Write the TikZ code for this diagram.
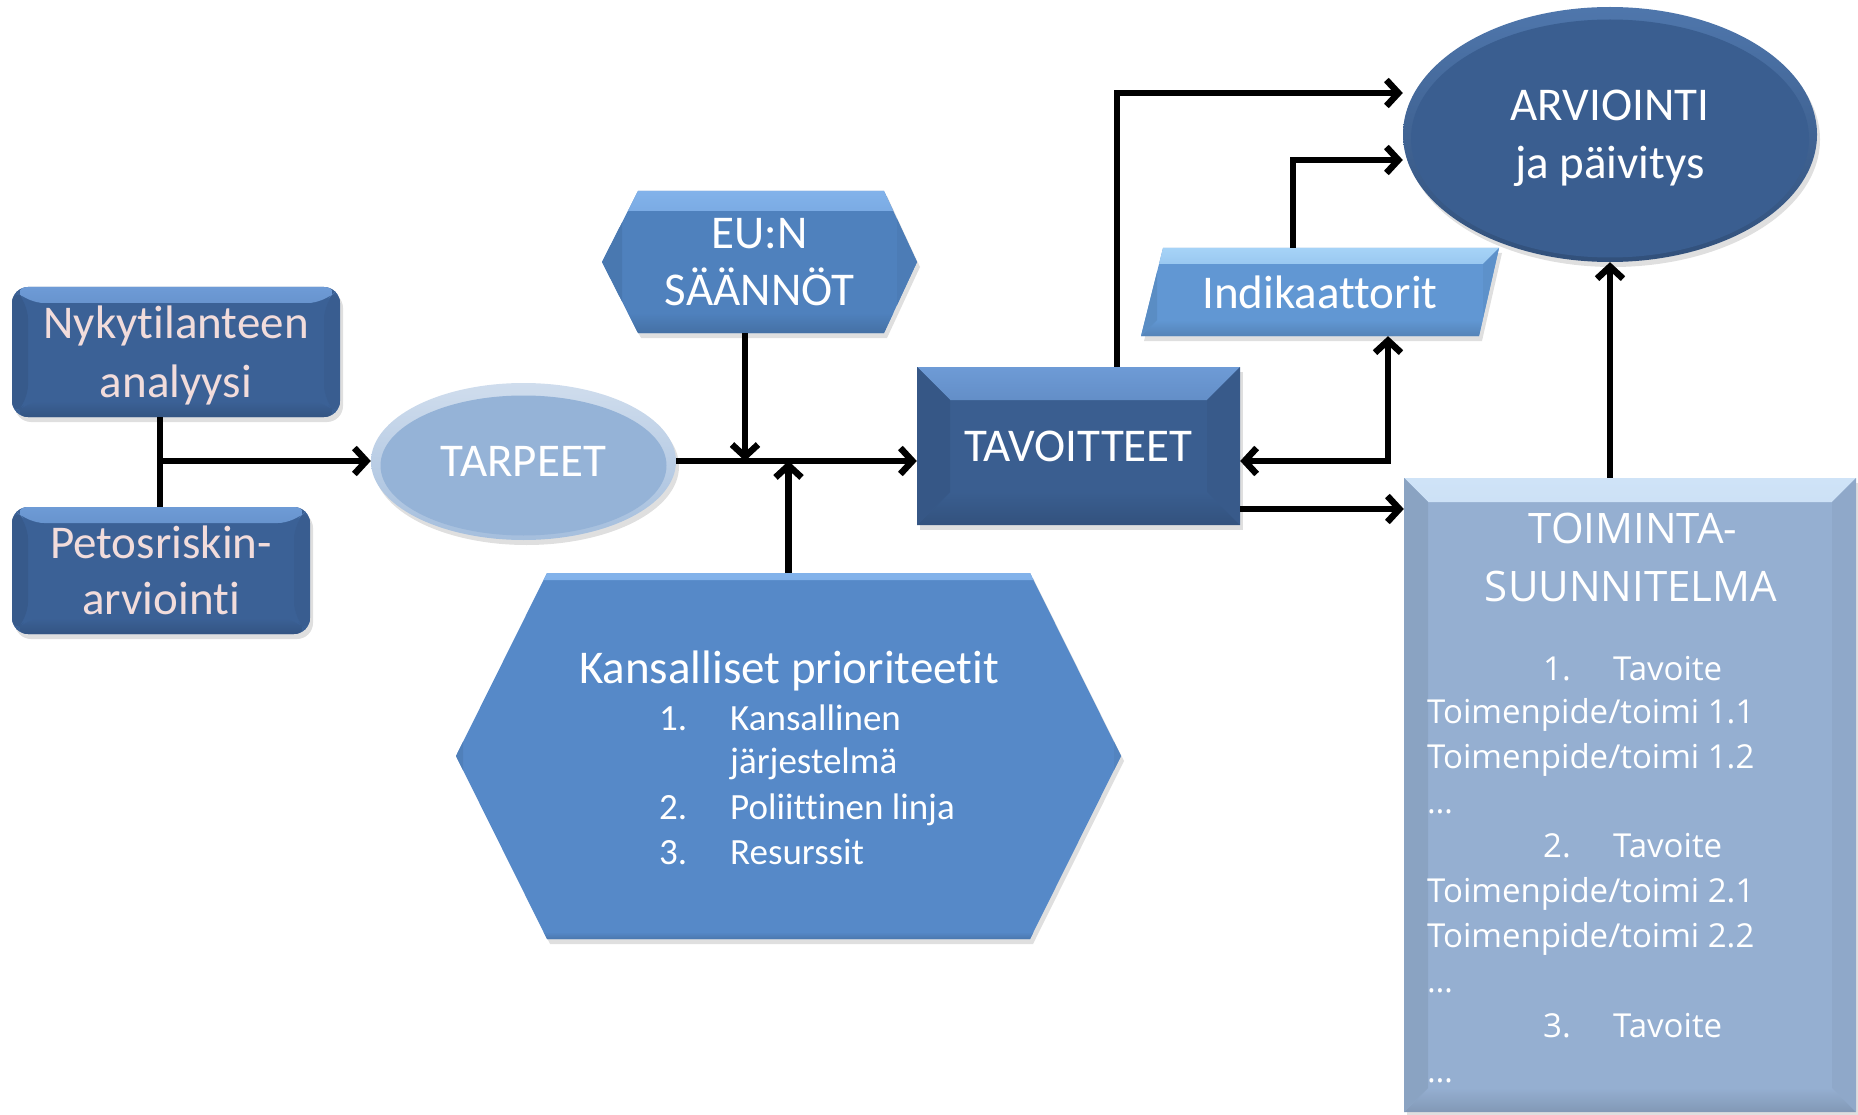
\documentclass[tikz,border=0pt]{standalone}
\usepackage{fontspec}
\setmainfont{Carlito}[Ligatures=NoCommon]
\newfontfamily\toimfont{Open Sans}[Ligatures=NoCommon]
\usetikzlibrary{arrows.meta,shadows,calc,shapes.geometric}

\definecolor{darkbl}{HTML}{3B6196}
\definecolor{tavc}{HTML}{3A5E90}
\definecolor{pinktxt}{HTML}{F2DCDB}
\definecolor{tarpc}{HTML}{95B3D7}
\definecolor{eubl}{HTML}{4F81BD}
\definecolor{indc}{HTML}{6197D3}
\definecolor{kansc}{HTML}{5689C8}
\definecolor{toimc}{HTML}{95AFD1}
\definecolor{hidark}{HTML}{6E9BD6}
\definecolor{hieu}{HTML}{82B2EA}
\definecolor{hiind}{HTML}{A6D3F7}
\definecolor{hitoim}{HTML}{CFE3F7}

\tikzset{
 bevel/.style n args={3}{path picture={
  \shade[top color=#3, bottom color=#2] (path picture bounding box.north west) -- (path picture bounding box.north east) -- ($(path picture bounding box.north east)+(-#1,-#1)$) -- ($(path picture bounding box.north west)+(#1,-#1)$) -- cycle;
  \shade[top color=#2, bottom color=#2!87!black] (path picture bounding box.south west) -- (path picture bounding box.south east) -- ($(path picture bounding box.south east)+(-#1,#1)$) -- ($(path picture bounding box.south west)+(#1,#1)$) -- cycle;
  \fill[#2!93!black] (path picture bounding box.north west) -- ($(path picture bounding box.north west)+(#1,-#1)$) -- ($(path picture bounding box.south west)+(#1,#1)$) -- (path picture bounding box.south west) -- cycle;
  \fill[#2!96!black] (path picture bounding box.north east) -- ($(path picture bounding box.north east)+(-#1,-#1)$) -- ($(path picture bounding box.south east)+(-#1,#1)$) -- (path picture bounding box.south east) -- cycle;
 }},
 ellbev/.style n args={4}{path picture={
  \fill[#1] ($(path picture bounding box.center)+(0pt,-#4)$) ellipse [x radius=#2, y radius=#3];
 }},
 shad/.style={drop shadow={opacity=0.25,shadow xshift=3pt,shadow yshift=-5pt}},
 lbl/.style={font=\fontsize{47}{58}\selectfont, text=white, align=center, inner sep=0pt, text depth=0pt},
 ln/.style={line width=6.5pt, draw=black},
 arr/.style={ln, -{Straight Barb[length=12pt,width=26pt]}},
 arrboth/.style={ln, {Straight Barb[length=12pt,width=26pt]}-{Straight Barb[length=12pt,width=26pt]}},
 kl/.style={font=\fontsize{37}{45}\selectfont, text=white, inner sep=0pt, anchor=base west},
 tl/.style={font=\toimfont\fontsize{33}{44}\selectfont, text=white, inner sep=0pt, anchor=base west},
}

\begin{document}
\begin{tikzpicture}[x=1pt,y=-1pt]
\useasboundingbox (0,0) rectangle (1858,1115);
\clip (0,0) rectangle (1858,1115);

% left boxes
\node[rectangle, rounded corners=16pt, fill=darkbl, shad, bevel={16pt}{darkbl}{hidark}, minimum width=328pt, minimum height=130pt, lbl, text=pinktxt, font=\fontsize{47}{59}\selectfont] (nyk) at (176,352) {Nykytilanteen\\analyysi};
\node[rectangle, rounded corners=16pt, fill=darkbl, shad, bevel={16pt}{darkbl}{hidark}, minimum width=298pt, minimum height=127pt, lbl, text=pinktxt, font=\fontsize{47}{56}\selectfont] (pet) at (161,570.5) {Petosriskin-\\arviointi};

% TARPEET
\node[ellipse, top color=tarpc!45!white, bottom color=tarpc!85!white, shad, ellbev={tarpc}{143pt}{70pt}{4pt}, minimum width=305pt, minimum height=157pt, lbl] (tarp) at (523.5,461.5) {TARPEET};

% EU:N hexagon
\path[fill=eubl, shad, bevel={20pt}{eubl}{hieu}] (638,191) -- (884,191) -- (917,262) -- (884,333) -- (638,333) -- (602,262) -- cycle;
\node[lbl, minimum width=315pt, minimum height=142pt, font=\fontsize{47}{57}\selectfont] (eu) at (759.5,262) {EU:N\\SÄÄNNÖT};

% Kansalliset hexagon
\path[fill=kansc, shad, bevel={7pt}{kansc}{hieu}] (547,573) -- (1030,573) -- (1121,756) -- (1030,939) -- (547,939) -- (456,756) -- cycle;
\node[inner sep=0pt, minimum width=665pt, minimum height=366pt] (kans) at (788.5,756) {};
\node[font=\fontsize{47}{57}\selectfont, text=white, inner sep=0pt, anchor=base] (kanst) at (789,683) {Kansalliset prioriteetit};
\node[kl] (kl1n) at (659,730) {1.};
\node[kl] (kl1) at (730,730) {Kansallinen};
\node[kl] (kl1b) at (730,773) {järjestelmä};
\node[kl] (kl2n) at (659,819) {2.};
\node[kl] (kl2) at (730,819) {Poliittinen linja};
\node[kl] (kl3n) at (659,864) {3.};
\node[kl] (kl3) at (730,864) {Resurssit};

% TAVOITTEET
\node[rectangle, fill=tavc, shad, bevel={33pt}{tavc}{hidark}, minimum width=323pt, minimum height=158pt, lbl] (tav) at (1078.5,446) {TAVOITTEET};

% ARVIOINTI
\node[ellipse, top color=tavc!60!hidark, bottom color=tavc!85!black, shad, ellbev={tavc}{199pt}{119pt}{4pt}, minimum width=414pt, minimum height=255pt, lbl, font=\fontsize{47}{58}\selectfont] (arv) at (1610,134.5) {ARVIOINTI\\ja päivitys};

% Indikaattorit parallelogram
\path[fill=indc, shad, bevel={16pt}{indc}{hiind}] (1163,248) -- (1499,248) -- (1479,336) -- (1141,336) -- cycle;
\node[lbl, minimum width=358pt, minimum height=88pt] (indik) at (1320,292) {Indikaattorit};

% TOIMINTASUUNNITELMA
\node[rectangle, fill=toimc, shad, bevel={24pt}{toimc}{hitoim}, minimum width=452pt, minimum height=634pt, inner sep=0pt] (toim) at (1630,795) {};
\node[font=\toimfont\fontsize{42}{58}\selectfont, text=white, inner sep=0pt, anchor=base] (tt1) at (1633,543) {TOIMINTA-};
\node[font=\toimfont\fontsize{42}{58}\selectfont, text=white, inner sep=0pt, anchor=base] (tt2) at (1631,601) {SUUNNITELMA};
\node[tl] (tl1) at (1427,680) {\hspace*{116pt}\makebox[70pt][l]{1.}Tavoite};
\node[tl] (tl2) at (1427,723) {Toimenpide/toimi 1.1};
\node[tl] (tl3) at (1427,768) {Toimenpide/toimi 1.2};
\node[tl] (tl4) at (1427,813) {…};
\node[tl] (tl5) at (1427,857) {\hspace*{116pt}\makebox[70pt][l]{2.}Tavoite};
\node[tl] (tl6) at (1427,902) {Toimenpide/toimi 2.1};
\node[tl] (tl7) at (1427,947) {Toimenpide/toimi 2.2};
\node[tl] (tl8) at (1427,992) {…};
\node[tl] (tl9) at (1427,1037) {\hspace*{116pt}\makebox[70pt][l]{3.}Tavoite};
\node[tl] (tl10) at (1427,1082) {…};

% connectors
\coordinate (j1) at (160,461);
\draw[ln] (nyk.south -| j1) -- (pet.north -| j1);
\draw[arr] (j1) -- (tarp.west |- j1);
\draw[arr] (tarp.east |- j1) -- (tav.west |- j1);
\coordinate (eus) at ($(eu.south)+(-14.5pt,0pt)$);
\draw[arr] (eus) -- (eus |- j1);
\draw[arr] (kans.north) -- (kans.north |- j1);
\coordinate (tavn) at ($(tav.north)+(38.5pt,0pt)$);
\coordinate (a1) at ($(arv.west)+(0,-41.5)$);
\draw[arr] (tavn) |- (a1);
\coordinate (indn) at ($(indik.north)+(-27pt,0pt)$);
\coordinate (a2) at ($(arv.west)+(0,25.5)$);
\draw[arr] (indn) |- (a2);
\coordinate (inds) at ($(indik.south)+(68pt,0pt)$);
\draw[arrboth] (tav.east |- j1) -| (inds);
\coordinate (tave) at ($(tav.east)+(0,63)$);
\draw[arr] (tave) -- (toim.west |- tave);
\draw[arr] (toim.north -| arv.south) -- (arv.south);
\end{tikzpicture}
\end{document}
